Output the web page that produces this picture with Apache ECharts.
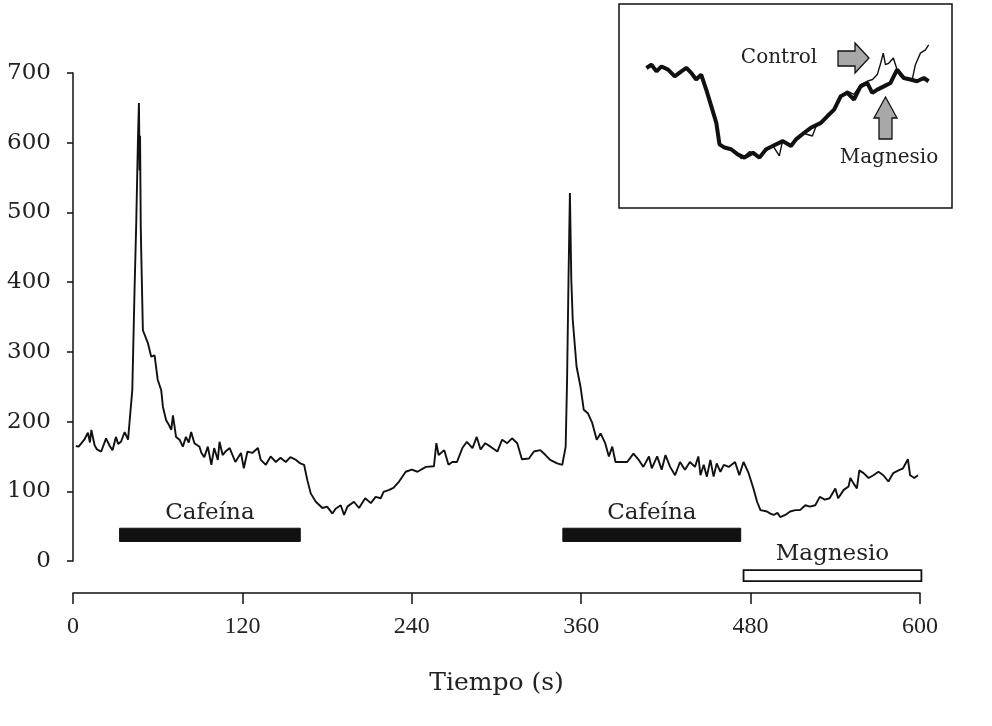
<!DOCTYPE html>
<html>
<head>
<meta charset="utf-8">
<script src="https://cdn.jsdelivr.net/npm/echarts@6/dist/echarts.min.js"></script>
<style>html,body{margin:0;padding:0;background:#fff}#c{width:992px;height:726px}</style>
</head>
<body>
<div id="c"></div>
<script>
// ---- data ----
const xTicks = [0, 120, 240, 360, 480, 600];
const yTicks = [0, 100, 200, 300, 400, 500, 600, 700];
const timeS = [2,4,8,10.6,12,13,15.3,17,20,23.4,26,28,30.4,32,34,36.6,39,40,42,43.6,44.8,46,46.7,47.2,47.5,48,48.4,49.5,53,55.4,57.8,60,62.5,63.7,66,68,69.6,70.8,73,75.5,77.8,80,82,83.7,86,89.6,91,93,95.5,98,100,102.6,103.8,106,108,111,112,115,119,121,123.6,127,131,133,136.6,140,143.7,147,150.7,154,158,161,163.7,166,168.4,172,176.7,180,183.8,186,189.7,192,194.4,199,202.6,207,211,214.4,218,220,224,227,231,235.7,240,244,250,255.7,257.4,259,263,266,268.7,272,275.8,279,283,286,288.7,292,295.8,300.6,304,307.6,311,314.7,318,323,326.5,331,334.7,338,343,346.6,349,350,351,352,353,354,356.7,359.5,361.8,364.7,367.8,371,373.7,377,379.6,382,384.3,387.8,392.6,397,400.8,404,408,410,413.8,417,419.7,423,426.5,430,433.5,437,440.6,443,444.5,446.8,449,451.5,453.8,456,458.6,461,464.5,469,472,475,478.6,482,484.6,487,491.6,494,496.4,499,501,504.6,508,511.7,515,518.8,522,525.8,529,532.6,536,540,542,546,549.4,550.7,553,555.3,557,560,563.6,567,570.6,574,577.6,581,584.8,588,591.4,593,596,598.5];
const signal = [165,164,174,184,170,188,166,160,157,176,165,159,178,168,171,185,174,198,245,389,485,604,657,560,610,480,437,331,313,293,295,260,245,221,202,195,188,209,178,174,164,178,170,185,169,164,155,149,164,138,162,145,171,152,157,162,161,142,155,133,157,155,162,145,138,150,142,148,142,149,145,140,138,116,97,85,76,78,68,75,80,66,78,85,76,90,83,92,90,99,102,105,114,128,131,128,135,136,169,152,159,138,142,142,162,171,162,178,160,169,164,157,174,169,176,169,146,147,157,159,152,145,140,138,164,260,403,528,403,346,279,250,217,212,198,174,183,169,150,164,142,142,142,154,145,135,150,133,150,131,152,135,123,142,131,142,135,150,123,138,121,145,121,140,128,138,135,142,123,142,126,104,85,73,71,68,66,69,63,66,71,73,73,80,78,80,92,88,90,104,90,102,107,119,111,104,130,126,119,123,128,123,114,126,130,133,146,123,119,123];
// treatment periods (s)
const cafeinaPeriods = [[33, 161], [347, 473]];
const magnesioPeriods = [[475, 601]];
const periodLabels = ['Cafeína', 'Magnesio'];
// inset (arbitrary units)
const insetMagT = [5.2,6.8,8.4,10,12.1,14.2,16.3,17.9,19.5,21,22.6,24.2,25.8,27.4,28.4,30,32.1,34.2,36.3,39,41.1,43.2,45.3,48.5,51.1,52.7,55.3,57.4,60.6,62.7,64.8,66.9,69,71.1,73.2,75.3,76.9,78.5,80.6,82.7,84.8,86.9,89,91.1,93.3,94.8];
const insetMagV = [69.5,71.2,67.7,70.3,68.6,65.1,67.7,69.5,66.8,63.4,66,58.1,49.4,40.6,29.3,27.6,26.7,24,22.3,24.9,22.3,26.7,28.4,31,28.4,31.9,35.4,38,40.6,44.2,47.6,54.6,56.4,52.9,59.8,61.6,56.4,58.1,59.8,61.6,68.6,64.2,63.4,62.5,64.2,62.5];
const insetCtlT = [5.2,6.8,8.4,10,12.1,14.2,16.3,17.9,19.5,21,22.6,24.2,25.8,27.4,28.4,30,32.1,34.2,35.3,36.3,38,39,41.1,43.2,45.3,47.4,48.5,51.1,52.7,55.3,57.9,59,60.6,62.7,64.8,66.9,69,71.1,73.2,75.3,77,78.5,79.6,80.4,81.1,82.2,83.6,84.8,85.9,88,89.6,90.6,92.2,93.8,94.8];
const insetCtlV = [70,71.5,68,70.5,68.3,65.5,68,69.8,67,63.8,66.3,58.5,49.8,41,29.6,27.3,26.2,24.5,21.8,23,25.5,24,23,26,28.8,23.2,31.5,29,32.5,35,33.7,38.5,41,44.5,47.8,54.8,57.3,55.6,60.7,62.5,63.4,66,72.1,77.3,71.2,72.1,74.7,68.6,65.1,63.4,63.4,71.2,77.3,79,81.7];

const mainData = timeS.map((t, i) => [t, signal[i]]);
const magLine = insetMagT.map((t, i) => [t, insetMagV[i]]);
const ctlLine = insetCtlT.map((t, i) => [t, insetCtlV[i]]);
// bars: [start, end, top, bottom, kind]
const barData = cafeinaPeriods.map(p => [p[0], p[1], 47, 28, 0])
  .concat(magnesioPeriods.map(p => [p[0], p[1], -13, -29, 1]));

const serif = 'DejaVu Serif';
const chart = echarts.init(document.getElementById('c'));
chart.setOption({
  animation: false,
  backgroundColor: '#fff',
  grid: [
    {left: 73, right: 72, top: 73, bottom: 165},
    {left: 630, right: 47, top: 10, bottom: 526}
  ],
  xAxis: [
    {type: 'value', gridIndex: 0, min: 0, max: 600, interval: 120, offset: 32,
     axisLine: {show: true, onZero: false, lineStyle: {color: '#111', width: 1.5}},
     axisTick: {show: true, inside: false, length: 11, lineStyle: {color: '#111', width: 1.5}},
     axisLabel: {margin: 22, color: '#222', fontFamily: 'Liberation Serif', fontSize: 24},
     splitLine: {show: false},
     name: 'Tiempo (s)', nameLocation: 'middle', nameGap: 78,
     nameTextStyle: {fontFamily: serif, fontSize: 25, color: '#222'}},
    {type: 'value', gridIndex: 1, min: 0, max: 100, show: false}
  ],
  yAxis: [
    {type: 'value', gridIndex: 0, min: 0, max: 700, interval: 100,
     axisLine: {show: true, lineStyle: {color: '#111', width: 1.5}},
     axisTick: {show: true, inside: false, length: 6, lineStyle: {color: '#111', width: 1.5}},
     axisLabel: {margin: 22, color: '#222', fontFamily: serif, fontSize: 23},
     splitLine: {show: false}},
    {type: 'value', gridIndex: 1, min: 0, max: 100, show: false}
  ],
  series: [
    {type: 'line', xAxisIndex: 0, yAxisIndex: 0, data: mainData, showSymbol: false,
     lineStyle: {color: '#111', width: 1.9}, clip: false},
    {type: 'custom', xAxisIndex: 0, yAxisIndex: 0, data: barData, clip: false,
     renderItem: function (params, api) {
       const p1 = api.coord([api.value(0), api.value(2)]);
       const p2 = api.coord([api.value(1), api.value(3)]);
       const kind = api.value(4);
       return {type: 'group', children: [
         {type: 'rect', shape: {x: p1[0], y: p1[1], width: p2[0] - p1[0], height: p2[1] - p1[1]},
          style: kind === 0 ? {fill: '#111', stroke: '#111', lineWidth: 1}
                            : {fill: '#fff', stroke: '#111', lineWidth: 1.8}},
         {type: 'text', style: {text: periodLabels[kind], x: (p1[0] + p2[0]) / 2, y: p1[1] - (kind === 0 ? 4 : 5),
          align: 'center', verticalAlign: 'bottom', fontFamily: serif, fontSize: 23, fill: '#222'}}
       ]};
     }},
    {type: 'line', xAxisIndex: 1, yAxisIndex: 1, data: magLine, showSymbol: false,
     lineStyle: {color: '#111', width: 4}, z: 3},
    {type: 'line', xAxisIndex: 1, yAxisIndex: 1, data: ctlLine, showSymbol: false,
     lineStyle: {color: '#111', width: 1.4}, z: 4}
  ],
  graphic: [
    {type: 'rect', shape: {x: 619, y: 4, width: 333, height: 204},
     style: {fill: 'none', stroke: '#111', lineWidth: 1.5}, z: 1},
    {type: 'text', style: {text: 'Control', x: 779, y: 58, align: 'center', verticalAlign: 'middle',
     fontFamily: serif, fontSize: 20, fill: '#222'}},
    {type: 'text', style: {text: 'Magnesio', x: 889, y: 158, align: 'center', verticalAlign: 'middle',
     fontFamily: serif, fontSize: 20, fill: '#222'}},
    {type: 'polygon', shape: {points: [[838,51],[855,51],[855,43],[869,58],[855,73],[855,66],[838,66]]},
     style: {fill: '#a8a8a8', stroke: '#111', lineWidth: 1.3}},
    {type: 'polygon', shape: {points: [[879,139],[879,118],[874,118],[885.5,97],[897,118],[892,118],[892,139]]},
     style: {fill: '#a8a8a8', stroke: '#111', lineWidth: 1.3}}
  ]
});
</script>
</body>
</html>
